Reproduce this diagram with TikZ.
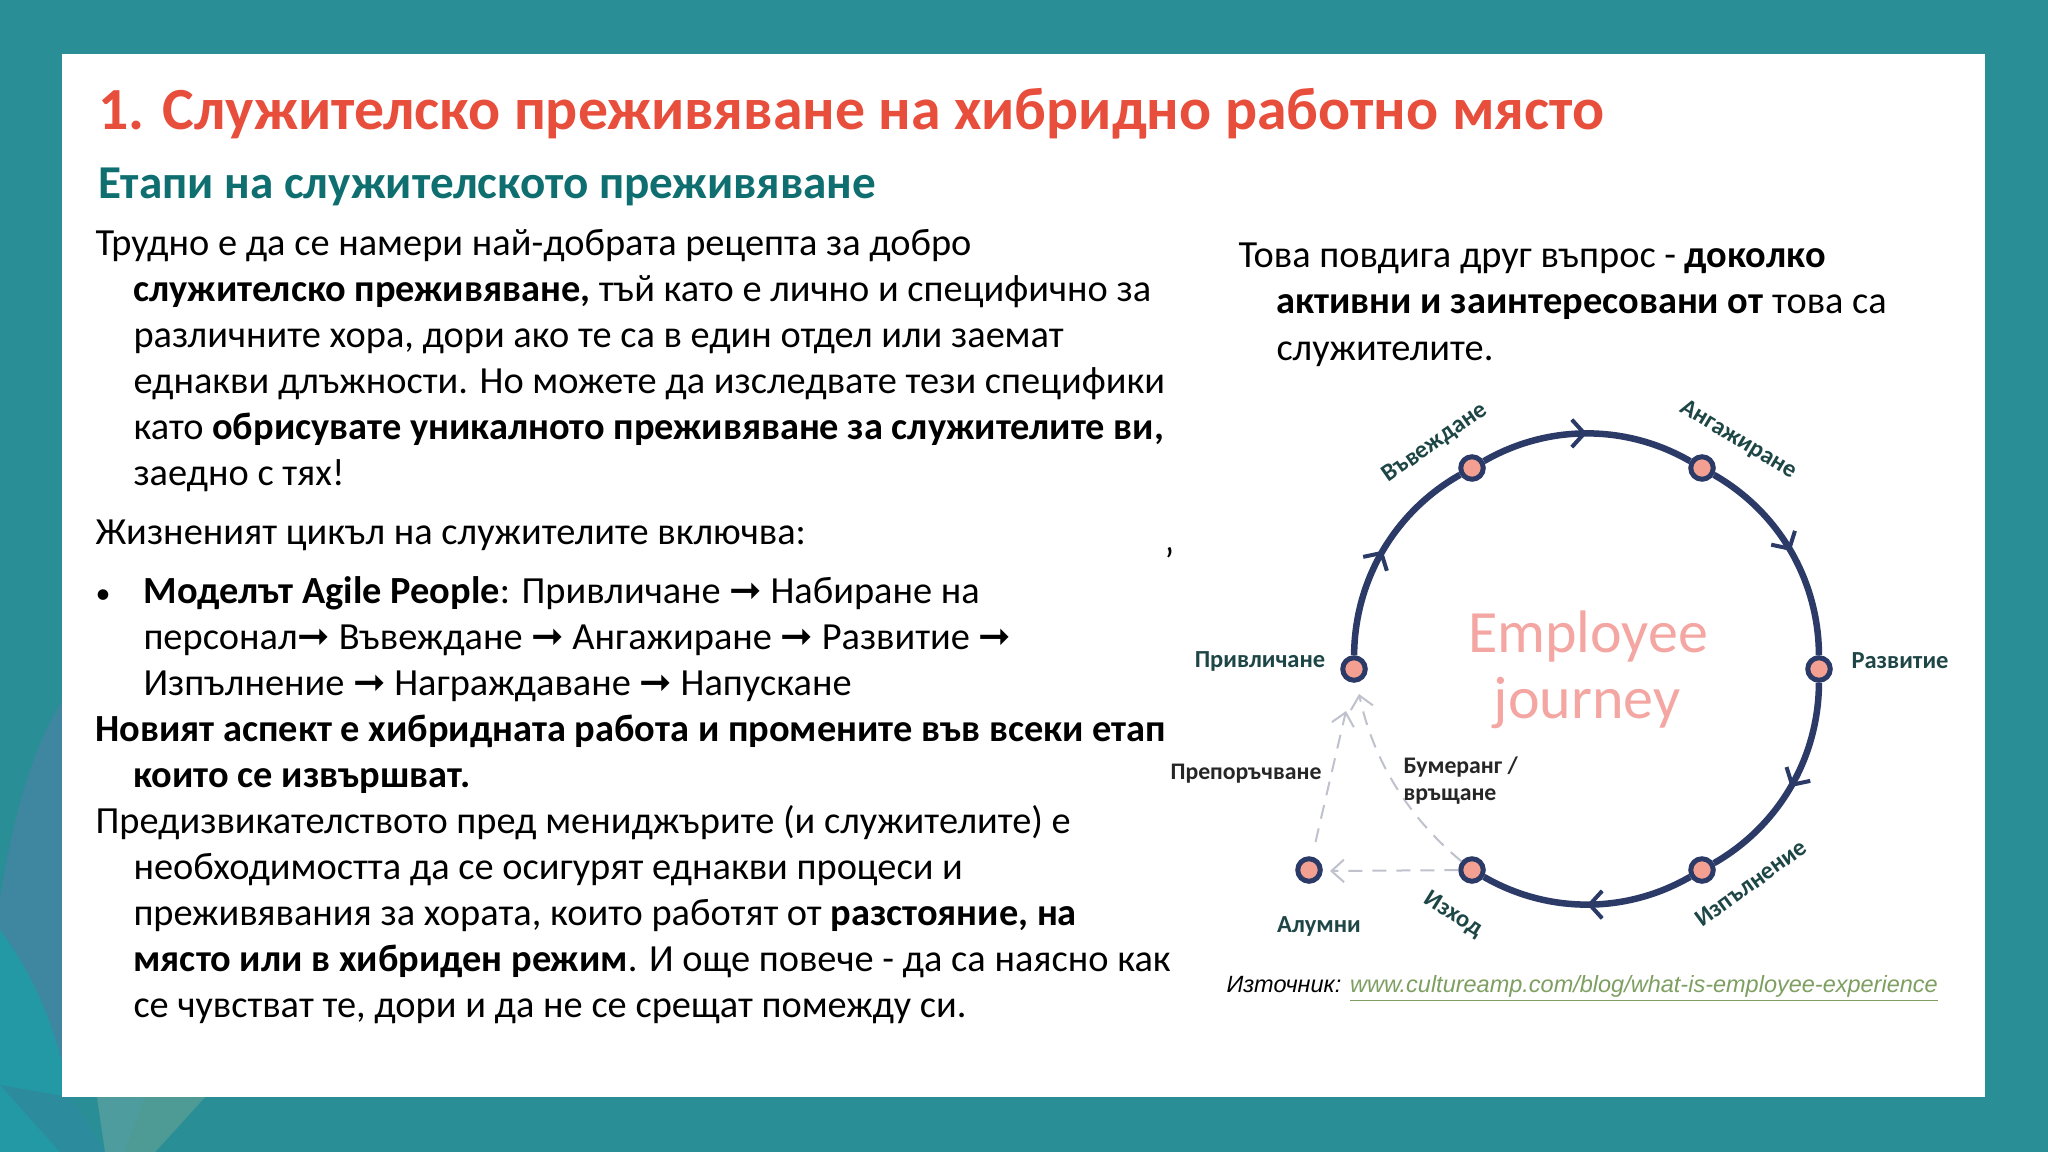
\documentclass[tikz,border=0pt]{standalone}
\usepackage{fontspec}
\setmainfont{Carlito}
\newfontfamily\srcfont{Liberation Sans}
\newfontfamily\arrowfont{DejaVu Sans}
\usetikzlibrary{arrows.meta,decorations.markings}
\definecolor{tealbg}{HTML}{2A8E97}
\definecolor{blobblue}{HTML}{3F86A0}
\definecolor{blobteal}{HTML}{2499A6}
\definecolor{blobband}{HTML}{2C8C9E}
\definecolor{blobpale}{HTML}{4F9C9E}
\definecolor{blobgreen}{HTML}{4E9A94}
\definecolor{titlered}{HTML}{E84E3C}
\definecolor{subteal}{HTML}{0F6F70}
\definecolor{ringblue}{HTML}{2B3A67}
\definecolor{dotpink}{HTML}{F3A093}
\definecolor{journeypink}{HTML}{F3A6A2}
\definecolor{dashgray}{HTML}{BFC2CC}
\definecolor{labelgreen}{HTML}{1E4646}
\definecolor{linkgreen}{HTML}{7E9F62}
\newcommand{\ar}{{\arrowfont\fontsize{15.5pt}{15.5pt}\selectfont ➞}}
\tikzset{
  line/.style={anchor=base west,inner sep=0pt,font=\fontsize{15.35pt}{15.35pt}\selectfont},
  dot/.style={circle,draw=ringblue,fill=dotpink,line width=2pt,minimum size=9pt,inner sep=0pt},
  ring/.style={draw=ringblue,line width=2.6pt,bend right=30,looseness=0.92,postaction={decorate},
    decoration={markings,mark=at position 0.5 with {\arrow[line width=1.6pt]{Straight Barb[length=5pt,width=11pt]}}}},
  back/.style={draw=dashgray,line width=0.8pt,dash pattern=on 5.6pt off 4pt,-{Straight Barb[length=5pt,width=9pt]}},
  step label/.style={inner sep=0pt,text=labelgreen,font=\fontsize{9.8pt}{9.8pt}\selectfont\bfseries},
  note label/.style={inner sep=0pt,text=black!85,font=\fontsize{9.5pt}{9.5pt}\selectfont\bfseries},
  journey/.style={inner sep=0pt,text=journeypink,font=\fontsize{24pt}{24pt}\selectfont}
}
\begin{document}
\begin{tikzpicture}[x=0.4pt,y=0.4pt,yscale=-1,xscale=1]
\useasboundingbox (0,0) rectangle (2048,1152);

% background
\fill[tealbg] (0,0) rectangle (2048,1152);
\begin{scope}
\clip (0,0) rectangle (2048,1152);
\fill[blobblue] (0,900) .. controls (15,800) and (40,730) .. (70,690) -- (70,1097) -- (105,1152) -- (0,1152) -- cycle;
\fill[blobteal] (0,930) .. controls (30,970) and (55,1020) .. (70,1097) -- (100,1152) -- (0,1152) -- cycle;
\fill[blobband] (0,1085) -- (70,1097) -- (105,1152) -- (60,1152) -- cycle;
\fill[blobpale] (97,1097) -- (205,1097) -- (155,1152) -- (105,1152) -- cycle;
\fill[blobgreen] (145,1097) -- (205,1097) -- (155,1152) -- (125,1152) -- cycle;
\end{scope}
\fill[white] (62,54) rectangle (1985,1097);

% title
\node[line,text=titlered,font=\fontsize{23.9pt}{23.9pt}\selectfont\bfseries] (title) at (98,130) {1. Служителско преживяване на хибридно работно място};
\node[line,text=subteal,font=\fontsize{18.85pt}{18.85pt}\selectfont\bfseries] (subtitle) at (98,199) {Етапи на служителското преживяване};

% left text
\node[line] (l1) at (95,256) {Трудно е да се намери най-добрата рецепта за добро};
\node[line] (l2) at (133,302) {\textbf{служителско преживяване,} тъй като е лично и специфично за};
\node[line] (l3) at (133,347) {различните хора, дори ако те са в един отдел или заемат};
\node[line] (l4) at (133,393) {еднакви длъжности. Но можете да изследвате тези специфики};
\node[line] (l5) at (133,439) {като \textbf{обрисувате уникалното преживяване за служителите ви,}};
\node[line] (l6) at (133,485) {заедно с тях!};
\node[line] (l7) at (95,544) {Жизненият цикъл на служителите включва:};
\node[line,font=\fontsize{12pt}{12pt}\selectfont] (bullet) at (95,603) {•};
\node[line] (l8) at (143,603) {\textbf{Моделът Agile People}: Привличане \ar{} Набиране на};
\node[line] (l9) at (143,649) {персонал\ar{} Въвеждане \ar{} Ангажиране \ar{} Развитие \ar};
\node[line] (l10) at (143,695) {Изпълнение \ar{} Награждаване \ar{} Напускане};
\node[line] (l11) at (95,741) {\textbf{Новият аспект е хибридната работа и промените във всеки етап}};
\node[line] (l12) at (133,787) {\textbf{които се извършват.}};
\node[line] (l13) at (95,833) {Предизвикателството пред мениджърите (и служителите) е};
\node[line] (l14) at (133,879) {необходимостта да се осигурят еднакви процеси и};
\node[line] (l15) at (133,925) {преживявания за хората, които работят от \textbf{разстояние, на}};
\node[line] (l16) at (133,971) {\textbf{място или в хибриден режим}. И още повече - да са наясно как};
\node[line] (l17) at (133,1017) {се чувстват те, дори и да не се срещат помежду си.};
\node[line] (tick) at (1164,574) {'};

% right text
\node[line] (r1) at (1238,268) {Това повдига друг въпрос - \textbf{доколко}};
\node[line] (r2) at (1276,314) {\textbf{активни и заинтересовани от} това са};
\node[line] (r3) at (1276,360) {служителите.};

% ring
\node[dot] (attract) at (1354,669) {};
\node[dot] (onboard) at (1472,468) {};
\node[dot] (engage) at (1702,468) {};
\node[dot] (develop) at (1819,669) {};
\node[dot] (perform) at (1702,870) {};
\node[dot] (leave) at (1472,870) {};
\node[dot] (alumni) at (1309,870) {};
\coordinate (tipa) at (1359,694);
\coordinate (tipb) at (1346,711);
\coordinate (tipc) at (1330,871);

\draw[ring] (attract) to (onboard);
\draw[ring] (onboard) to (engage);
\draw[ring] (engage) to (develop);
\draw[ring] (develop) to (perform);
\draw[ring] (perform) to (leave);
\draw[back] (leave) to[out=-130,in=78,looseness=0.9] (tipa);
\draw[back,shorten <=6pt] (alumni) -- (tipb);
\draw[back] (leave) -- (tipc);

\node[journey] (emp) at (1588,637) {Employee};
\node[journey] (jou) at (1587,703) {journey};

\node[step label] (la) at (1260,661) {Привличане};
\node[step label] (lb) at (1900,661) {Развитие};
\node[step label,rotate=35] (lc) at (1435,443) {Въвеждане};
\node[step label,rotate=-31] (ld) at (1738,440) {Ангажиране};
\node[step label,rotate=36] (le) at (1751,883) {Изпълнение};
\node[step label,rotate=-32] (lf) at (1453,915) {Изход};
\node[step label] (lg) at (1319,926) {Алумни};
\node[note label] (lh) at (1246,774) {Препоръчване};
\node[note label,anchor=base west] (li) at (1403,773) {Бумеранг /};
\node[note label,anchor=base west] (lj) at (1403,800) {връщане};

% source
\node[anchor=base west,inner sep=0pt,font=\srcfont\itshape\fontsize{9.4pt}{9.4pt}\selectfont] (source) at (1226,992) {Източник: \textcolor{linkgreen}{\underline{www.cultureamp.com/blog/what-is-employee-experience}}};
\end{tikzpicture}
\end{document}
